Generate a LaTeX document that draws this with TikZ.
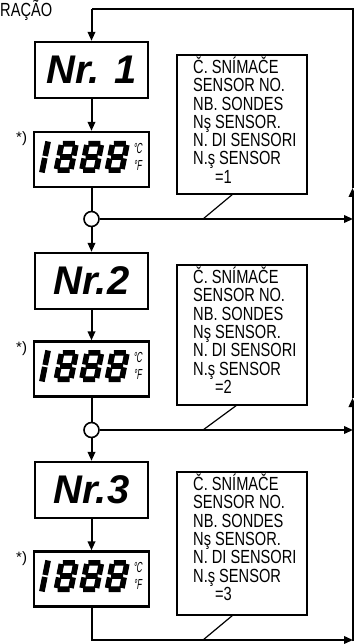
\documentclass[tikz,border=0pt]{standalone}
\usepackage{fontspec}
\setmainfont{Liberation Sans}
\newfontfamily\narrowf{Liberation Sans}[FakeStretch=0.77]
\newfontfamily\unitf{Liberation Sans}[FakeStretch=0.55,FakeSlant=0.15]
\usetikzlibrary{arrows.meta}
\tikzset{
  line/.style={line width=2pt},
  arr/.style={line, -{Triangle[length=9pt,width=7.5pt]}},
  nrbox/.style={draw, line width=2.3pt, minimum width=113pt, minimum height=56pt, inner sep=0pt,
    font=\fontsize{40}{40}\selectfont\bfseries\itshape},
  dispbox/.style={draw, line width=2.3pt, minimum width=115pt, minimum height=55pt, inner sep=0pt},
  junction/.style={circle, draw, line width=1.6pt, fill=white, minimum size=15pt, inner sep=0pt},
  sensorbox/.style={draw, line width=2pt, minimum width=130pt, inner sep=0pt},
  sensortext/.style={anchor=north west, inner sep=0pt, align=left,
    font=\narrowf\fontsize{19}{18.3}\selectfont},
  startext/.style={anchor=base west, inner sep=0pt, font=\fontsize{15}{15}\selectfont},
  seg/.style={line width=5.6pt, line cap=butt},
  unittext/.style={inner sep=0pt, font=\unitf\fontsize{14.5}{14.5}\selectfont},
}
\newcommand\lcdeight[2]{%
  \begin{scope}[shift={(#1,#2)},xslant=0.2]
    \draw[seg] (4,-2.8)--(16,-2.8) (4,-16)--(16,-16) (4,-29.2)--(16,-29.2)
      (2.8,-4)--(2.8,-14.6) (2.8,-17.4)--(2.8,-28)
      (17.2,-4)--(17.2,-14.6) (17.2,-17.4)--(17.2,-28);
  \end{scope}}
\newcommand\lcdone[2]{%
  \begin{scope}[shift={(#1,#2)},xslant=0.2]
    \draw[seg] (2.8,-0.5)--(2.8,-15) (2.8,-17)--(2.8,-31.5);
  \end{scope}}
\newcommand\lcdrow[1]{%
  \lcdone{39}{#1}\lcdeight{53}{#1}\lcdeight{78.5}{#1}\lcdeight{104}{#1}}
\begin{document}
\begin{tikzpicture}[x=1pt,y=-1pt]
\useasboundingbox (0,0) rectangle (353,644);

\node[anchor=base west, inner sep=0pt, font=\narrowf\fontsize{19}{19}\selectfont] (title) at (0,16.5) {RAÇÃO};

% main boxes
\node[nrbox] (nr1) at (91.5,70) {Nr. 1};
\node[dispbox] (disp1) at (91.5,159.5) {};
\node[nrbox] (nr2) at (91.5,281) {Nr.2};
\node[dispbox] (disp2) at (91.5,369) {};
\node[nrbox] (nr3) at (91.5,490) {Nr.3};
\node[dispbox] (disp3) at (91.5,579) {};

% star notes
\node[startext] (st1) at (16,143) {*)};
\node[startext] (st2) at (16,352) {*)};
\node[startext] (st3) at (16,562) {*)};

% LCD digits
\lcdrow{173}
\lcdrow{382}
\lcdrow{592}
\node[unittext] (u1c) at (137.5,148.5) {°C};
\node[unittext] (u1f) at (137.5,165) {°F};
\node[unittext] (u2c) at (137.5,357.5) {°C};
\node[unittext] (u2f) at (137.5,374) {°F};
\node[unittext] (u3c) at (137.5,567.5) {°C};
\node[unittext] (u3f) at (137.5,584) {°F};

% coordinates
\coordinate (top) at (91.5,9);
\coordinate (tr) at (352.5,9);
\coordinate (r1) at (353,219);
\coordinate (r2) at (353,430);
\coordinate (bl) at (91.5,640);
\coordinate (br) at (353,640);
\coordinate (br2) at (352.5,641);
\coordinate (m1) at (352.5,188);
\coordinate (m2) at (352.5,398);

% flow lines
\draw[arr] (top) -- (nr1);
\draw[arr] (nr1) -- (disp1);
\draw[line] (disp1.south) -- (91.5,219) coordinate (c1pos);
\draw[line] (disp2.south) -- (91.5,430) coordinate (c2pos);
\node[junction] (c1) at (c1pos) {};
\node[junction] (c2) at (c2pos) {};
\draw[arr] (c1) -- (nr2);
\draw[arr] (nr2) -- (disp2);
\draw[arr] (c2) -- (nr3);
\draw[arr] (nr3) -- (disp3);
\draw[arr] (c1) -- (r1);
\draw[arr] (c2) -- (r2);
\draw[arr] (disp3) |- (br);

% return line at the right edge
\draw[arr] (br2) -- (m2);
\draw[arr] (m2) -- (m1);
\draw[line] (m1) -- (tr) -- (top);

% sensor boxes
\node[sensorbox, minimum height=139pt] (sb1) at (242,124.5) {};
\node[sensorbox, minimum height=140pt] (sb2) at (242,335) {};
\node[sensorbox, minimum height=143pt] (sb3) at (242,543.5) {};
\node[sensortext] (tx1) at (193,56.3) {\rule{0pt}{17pt}Č. SNÍMAČE\\SENSOR NO.\\NB. SONDES\\Nş SENSOR.\\N. DI SENSORI\\N.ş SENSOR\\\hspace*{22pt}=1};
\node[sensortext] (tx2) at (193,266.3) {\rule{0pt}{17pt}Č. SNÍMAČE\\SENSOR NO.\\NB. SONDES\\Nş SENSOR.\\N. DI SENSORI\\N.ş SENSOR\\\hspace*{22pt}=2};
\node[sensortext] (tx3) at (193,473.3) {\rule{0pt}{17pt}Č. SNÍMAČE\\SENSOR NO.\\NB. SONDES\\Nş SENSOR.\\N. DI SENSORI\\N.ş SENSOR\\\hspace*{22pt}=3};

% pointer lines
\coordinate (p1) at (233,194);
\coordinate (q1) at (203,219);
\coordinate (p2) at (237,405);
\coordinate (q2) at (203,430);
\coordinate (p3) at (233,615);
\coordinate (q3) at (203,640);
\draw[line, line width=1.2pt] (p1) -- (q1);
\draw[line, line width=1.2pt] (p2) -- (q2);
\draw[line, line width=1.2pt] (p3) -- (q3);
\end{tikzpicture}
\end{document}
